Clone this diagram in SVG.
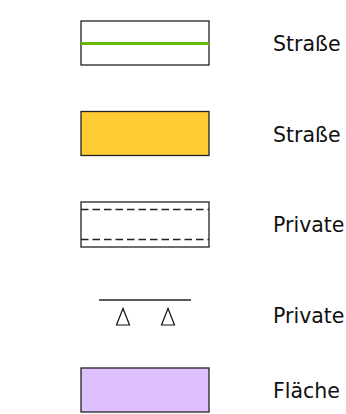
<svg xmlns="http://www.w3.org/2000/svg" width="346" height="414" viewBox="0 0 346 414">
<style>
.box{stroke:#222;stroke-width:1.3}
.lbl{font-family:"DejaVu Sans","Liberation Sans",sans-serif;font-size:20.5px;fill:#111}
.dash{stroke:#222;stroke-width:1.3;stroke-dasharray:7.5,4}
</style>
<rect width="346" height="414" fill="#fff"/>
<g id="legend-street">
<rect class="box" x="81" y="21" width="128" height="44" fill="#fff"/>
<line x1="81" y1="43.5" x2="209" y2="43.5" stroke="#66bb00" stroke-width="3"/>
<text class="lbl" x="273" y="51">Straße</text>
</g>
<g id="legend-street-yellow">
<rect class="box" x="81" y="111.5" width="128" height="44" fill="#ffcc33"/>
<text class="lbl" x="273" y="142">Straße</text>
</g>
<g id="legend-private-road">
<rect class="box" x="81" y="202" width="128" height="45" fill="#fff"/>
<line class="dash" x1="81" y1="209.5" x2="209" y2="209.5"/>
<line class="dash" x1="81" y1="239.5" x2="209" y2="239.5"/>
<text class="lbl" x="273" y="232">Private</text>
</g>
<g id="legend-private-parking">
<line x1="99" y1="300" x2="191" y2="300" stroke="#222" stroke-width="1.3"/>
<polygon points="123,308.5 116.5,325 129.5,325" fill="none" stroke="#111" stroke-width="1.2"/>
<polygon points="168,308.5 161.5,325 174.5,325" fill="none" stroke="#111" stroke-width="1.2"/>
<text class="lbl" x="273" y="323">Private</text>
</g>
<g id="legend-area">
<rect class="box" x="81" y="368" width="128" height="44" fill="#dfc0ff"/>
<text class="lbl" x="273" y="398">Fläche</text>
</g>
</svg>
